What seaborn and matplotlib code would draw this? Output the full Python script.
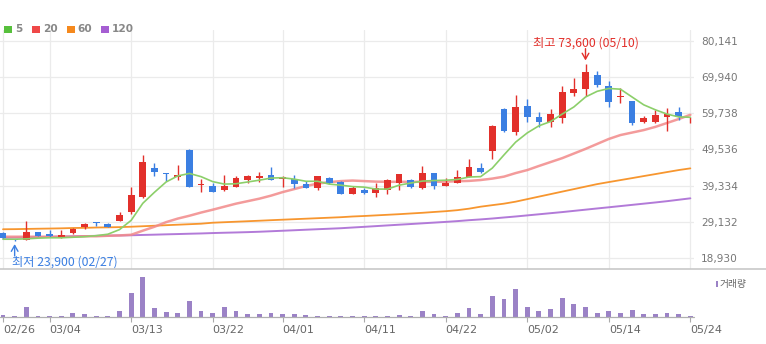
import numpy as np
import pandas as pd
import matplotlib
matplotlib.use("Agg")
import matplotlib.pyplot as plt
from matplotlib.lines import Line2D
from matplotlib.patches import Rectangle
import seaborn as sns

# ---------------- data ----------------
dates = ["02/26","02/27","02/28","02/29","03/04","03/05","03/06","03/07","03/08","03/11",
         "03/12","03/13","03/14","03/15","03/18","03/19","03/20","03/21","03/22","03/25",
         "03/26","03/27","03/28","03/29","04/01","04/02","04/03","04/04","04/05","04/08",
         "04/09","04/11","04/12","04/15","04/16","04/17","04/18","04/19","04/22","04/23",
         "04/24","04/25","04/26","04/29","04/30","05/02","05/03","05/07","05/08","05/09",
         "05/10","05/13","05/14","05/16","05/17","05/20","05/21","05/22","05/23","05/24"]
opens  = [26100,24300,24200,26200,25900,24650,26050,27700,29000,28700,
          29450,32000,36050,44300,42800,41700,49500,39600,39200,38100,
          39000,41000,41600,42400,41200,41100,39800,38600,41400,40500,
          37000,38100,37200,38100,40200,40900,38600,42800,39300,40200,
          41900,44200,49100,60900,54400,61900,58800,57200,58300,65400,
          66500,70600,67400,64300,63200,57200,57400,58600,60000,57700]
highs  = [26200,24400,29400,26300,27000,27000,27500,28800,29100,28800,
          32000,38900,48000,45800,43000,45200,49600,41100,40200,42300,
          42100,42500,43300,44500,42100,42300,40600,42100,41900,40600,
          39300,38800,40000,41200,42700,41200,44900,43000,41400,43900,
          47000,45800,56300,61300,64900,63800,60000,61000,67500,69600,
          73600,71500,68700,66800,63300,59000,60700,61300,61600,58800]
lows   = [24400,23900,24000,25200,25000,24500,25800,27100,28100,27700,
          29300,31500,35800,42100,40700,40900,39000,37600,37500,38000,
          38900,40000,40500,40900,39000,38800,38600,38100,39900,36900,
          36900,37000,36200,37000,38100,38800,38400,38400,39200,40000,
          41800,42800,46800,54500,53600,57400,56000,56000,56900,64600,
          64600,67000,61400,62600,56300,56900,57000,54600,57800,56900]
closes = [24500,24000,26200,25300,25100,25600,27300,28700,28800,27800,
          30970,36700,46100,43300,42600,42400,39100,39900,37700,39200,
          41400,42000,42200,41000,41900,39700,38800,42000,40000,37000,
          38600,37400,38600,40900,42600,39100,43000,39400,40000,41700,
          44500,43100,56200,54600,61600,58600,57200,59500,65800,66500,
          71200,67600,63000,64700,57000,58500,59100,59500,58600,57800]
ma5   = [24300,24300,24400,24600,24700,24700,24850,25000,25300,25700,
         27000,29600,34400,37500,40400,42100,42800,41900,40500,39800,
         39900,40400,40900,41500,41600,41200,40600,40600,39800,39500,
         39100,38950,38400,38400,39500,40100,40650,40800,40900,41100,
         41800,41900,44300,48000,51600,54200,56200,57400,59500,61500,
         64300,65900,66700,66500,64300,62100,60700,59500,58700,58600]
ma20  = [25000,25000,25000,25000,25000,25000,25000,25130,25130,25270,
         25360,25550,26700,27800,29100,30100,30900,31800,32600,33450,
         34300,35000,35700,36550,37550,38400,39250,39950,40350,40650,
         40800,40650,40500,40450,40450,40450,40450,40450,40500,40600,
         40700,40950,41350,41900,42900,43750,44900,46000,47100,48400,
         49700,51100,52500,53600,54300,55000,55900,57000,58100,59300]
ma60  = [27100,27130,27190,27250,27300,27360,27450,27500,27590,27640,
         27700,27810,27950,28090,28240,28380,28520,28660,28940,29080,
         29220,29360,29500,29650,29790,29930,30070,30210,30350,30490,
         30690,30830,31000,31170,31340,31540,31730,31960,32180,32470,
         32890,33450,33880,34300,34860,35570,36280,36980,37690,38390,
         39100,39800,40370,40930,41490,42060,42620,43190,43750,44230]
ma120 = [24710,24770,24850,24910,24960,25050,25130,25190,25240,25300,
         25360,25410,25500,25580,25670,25750,25840,25920,26030,26120,
         26200,26290,26400,26540,26680,26820,26970,27110,27250,27390,
         27590,27780,27980,28180,28380,28570,28770,28970,29170,29390,
         29650,29870,30120,30410,30690,31000,31310,31620,31930,32270,
         32610,32950,33280,33620,33960,34300,34640,35000,35400,35800]
volume = [60,45,450,45,45,45,150,105,45,45,
          255,1050,1800,405,195,150,705,255,150,435,
          255,105,105,150,105,105,60,45,45,45,
          45,45,45,45,90,45,255,105,45,150,
          405,105,945,795,1245,450,255,345,855,555,
          450,150,255,150,300,105,105,150,105,45]
tick_labels = ["02/26","03/04","03/13","03/22","04/01","04/11","04/22","05/02","05/14","05/24"]
y_ticks = [18930,29132,39334,49536,59738,69940,80141]
ma_names = ["5","20","60","120"]
hi_text = "최고 73,600 (05/10)"
lo_text = "최저 23,900 (02/27)"
vol_name = "거래량"

# ---------------- style ----------------
sns.set_theme(style="white")
plt.rcParams["font.family"] = ["DejaVu Sans", "Noto Sans CJK KR"]

W, H = 766, 344
fig = plt.figure(figsize=(W/100, H/100), dpi=100)
fig.patch.set_facecolor("white")

def fx(x): return x / W
def fy(y): return 1 - y / H

RED = "#e2302b"
BLUE = "#3b7fe2"
C_MA = ["#8ccf6a", "#f28a8a", "#f7962f", "#b27ad8"]
C_LEG = ["#57c03c", "#ef4848", "#f5891d", "#a55ed2"]
VOLC = "#9b82c6"
GRID = "#ebebeb"

n = len(dates)
idx = np.arange(n)
tick_idx = [dates.index(d) for d in tick_labels]
x0, step = 3.0, 11.65
xlim = (-x0/step, (694 - x0)/step)

# ---------------- main panel ----------------
ax = fig.add_axes([0, fy(269), 694/W, (269-30)/H])
ax.set_xlim(*xlim)
ax.set_ylim(15920, 83151)
for s in ax.spines.values():
    s.set_visible(False)
ax.set_xticks(tick_idx)
ax.tick_params(axis="x", length=0, labelbottom=False)
ax.yaxis.tick_right()
ax.set_yticks(y_ticks)
ax.set_yticklabels([f"{v:,}" for v in y_ticks])
ax.tick_params(axis="y", length=0, pad=5, labelsize=7.6, labelcolor="#777777")
ax.grid(True, color=GRID, lw=0.9)
ax.set_axisbelow(True)

df = pd.DataFrame({"i": idx, "ma5": ma5, "ma20": ma20, "ma60": ma60, "ma120": ma120})
sns.lineplot(data=df, x="i", y="ma120", ax=ax, color=C_MA[3], lw=1.4, legend=False, zorder=2)
sns.lineplot(data=df, x="i", y="ma60", ax=ax, color=C_MA[2], lw=1.3, legend=False, zorder=2)
sns.lineplot(data=df, x="i", y="ma20", ax=ax, color=C_MA[1], lw=1.8, alpha=0.85, legend=False, zorder=2)

o = np.array(opens); c = np.array(closes); h = np.array(highs); l = np.array(lows)
up = c >= o
cols = np.where(up, RED, BLUE)
ax.vlines(idx, l, h, colors=cols, lw=1.0, zorder=3)
bot = np.minimum(o, c); top = np.maximum(o, c)
hgt = np.maximum(top - bot, 250)
ax.bar(idx, hgt, bottom=bot, width=0.58, color=cols, edgecolor=cols, lw=0, zorder=4)

sns.lineplot(data=df, x="i", y="ma5", ax=ax, color=C_MA[0], lw=1.2, legend=False, zorder=5)
ax.set_xlabel(""); ax.set_ylabel("")
ax.set_xlim(*xlim)
ax.set_ylim(15920, 83151)

ih = int(np.argmax(h)); il = int(np.argmin(l))
ax.annotate("", xy=(ih, h[ih]), xytext=(0, 11), textcoords="offset points",
            arrowprops=dict(arrowstyle="->,head_length=0.35,head_width=0.2", color=RED, lw=1.0,
                            shrinkA=0, shrinkB=2.5), annotation_clip=False)
ax.annotate(hi_text, xy=(ih, h[ih]), xytext=(0, 15), textcoords="offset points",
            ha="center", va="center", color=RED, fontsize=8.8, family=["Noto Sans CJK KR"],
            annotation_clip=False)
ax.annotate("", xy=(il, l[il]), xytext=(0, -11), textcoords="offset points",
            arrowprops=dict(arrowstyle="->,head_length=0.35,head_width=0.2", color=BLUE, lw=1.0,
                            shrinkA=0, shrinkB=2.5), annotation_clip=False)
ax.annotate(lo_text, xy=(il, l[il]), xytext=(-2.2, -15.3), textcoords="offset points",
            ha="left", va="center", color=BLUE, fontsize=8.8, family=["Noto Sans CJK KR"],
            annotation_clip=False)

# ---------------- volume panel ----------------
axv = fig.add_axes([0, fy(316.7), 694/W, (316.7-269)/H])
vdf = pd.DataFrame({"i": idx, "v": volume})
sns.barplot(data=vdf, x="i", y="v", ax=axv, native_scale=True, color=VOLC,
            saturation=1, width=0.42, linewidth=0)
axv.set_xlim(*xlim)
axv.set_ylim(0, max(volume) * 47.7 / 40)
axv.set_xlabel(""); axv.set_ylabel("")
for s in axv.spines.values():
    s.set_visible(False)
axv.set_yticks([])
axv.set_xticks(tick_idx)
axv.set_xticklabels(tick_labels, ha="left")
axv.tick_params(axis="x", direction="out", length=3.3, width=0.8, color="#aaaaaa",
                labelsize=8, labelcolor="#666666", pad=2.5, bottom=True)

# frame lines
fig.add_artist(Line2D([0, 1], [fy(269), fy(269)], color="#c4c4c4", lw=1.1))
fig.add_artist(Line2D([0, 694/W], [fy(316.9), fy(316.9)], color="#b0b0b0", lw=0.9))

# ---------------- legends ----------------
leg_sq_x = [4, 32.3, 66.7, 100.7]
for name, col, sx in zip(ma_names, C_LEG, leg_sq_x):
    fig.add_artist(Rectangle((fx(sx), fy(33.2)), 8/W, 7.5/H, color=col, lw=0))
    fig.text(fx(sx + 11), fy(29.4), name, ha="left", va="center", fontsize=7.6,
             fontweight="bold", color="#888888")

fig.add_artist(Rectangle((fx(715.5), fy(287.3)), 2.6/W, 6.6/H, color=VOLC, lw=0))
fig.text(fx(719.5), fy(284), vol_name, ha="left", va="center", fontsize=7,
         color="#666666", family=["Noto Sans CJK KR"])

fig.savefig("out.png", dpi=100, facecolor="white")
